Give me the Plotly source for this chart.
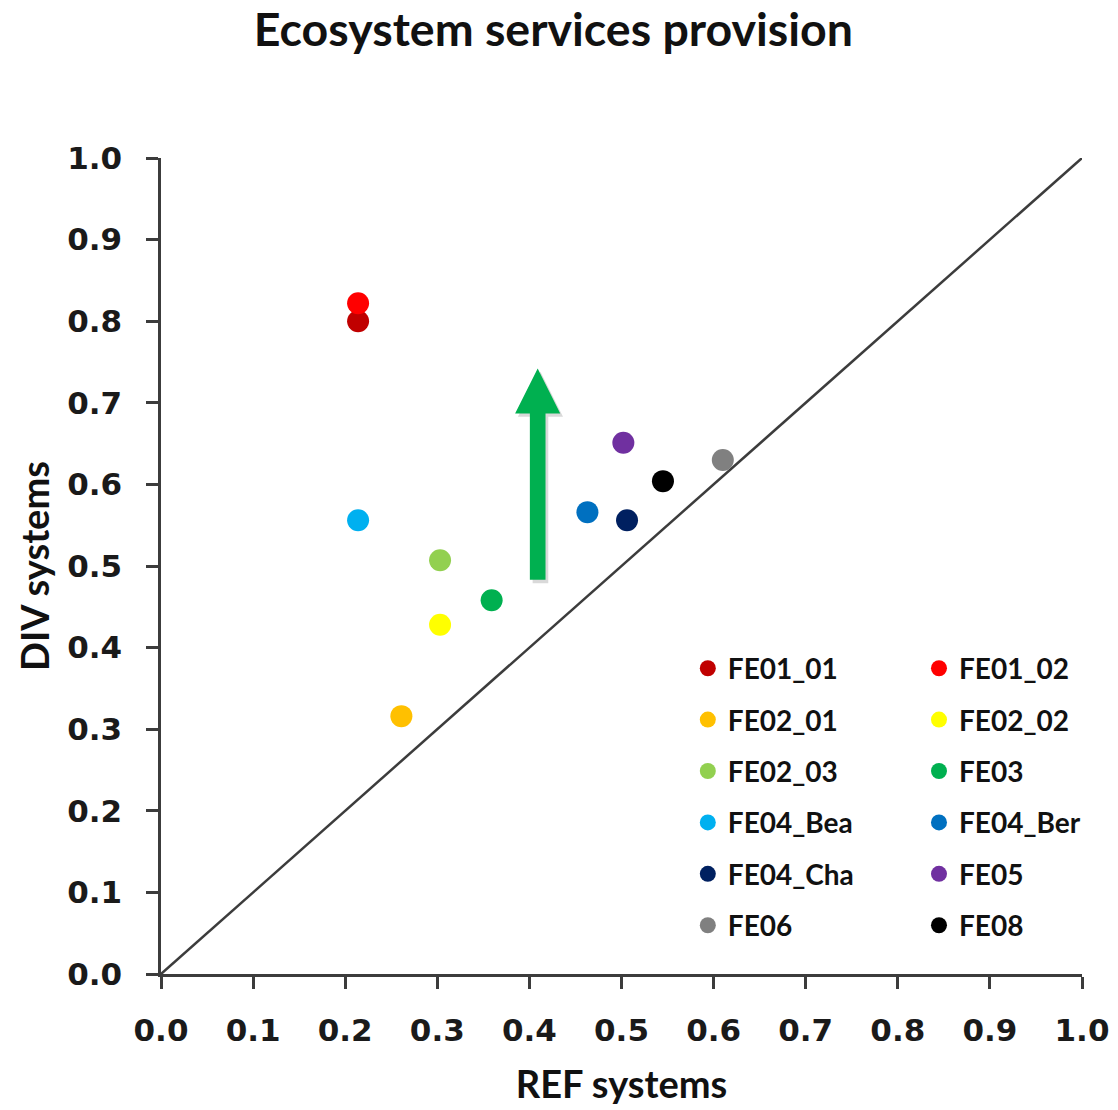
import plotly.graph_objects as go

# Farm experiments: REF-system score (x) vs DIV-system score (y)
sites = ["FE01_01", "FE01_02", "FE02_01", "FE02_02", "FE02_03", "FE03",
         "FE04_Bea", "FE04_Ber", "FE04_Cha", "FE05", "FE06", "FE08"]
ref_scores = [0.214, 0.214, 0.261, 0.303, 0.303, 0.359,
              0.214, 0.463, 0.506, 0.502, 0.610, 0.545]
div_scores = [0.800, 0.822, 0.316, 0.428, 0.507, 0.458,
              0.556, 0.566, 0.556, 0.651, 0.630, 0.604]
site_colors = ["#C00000", "#FF0000", "#FFC000", "#FFFF00", "#92D050", "#00B050",
               "#00B0F0", "#0070C0", "#002060", "#7030A0", "#808080", "#000000"]

tick_values = [0.0, 0.1, 0.2, 0.3, 0.4, 0.5, 0.6, 0.7, 0.8, 0.9, 1.0]
tick_labels = [f"{v:.1f}" for v in tick_values]

# 1:1 reference line
identity_line = [0.0, 1.0]

# upward arrow (data units)
arrow_x = 0.409
arrow_y_start = 0.483
arrow_y_tip = 0.742
arrow_shaft_half = 0.0085
arrow_head_half = 0.0245
arrow_head_len = 0.055

ARROW_GREEN = "#00B050"
AXIS_COLOR = "#3C3C3C"
LABEL_FONT = "Lato"
TICK_FONT = "DejaVu Sans"

fig = go.Figure()

fig.add_trace(go.Scatter(
    x=identity_line, y=identity_line, mode="lines",
    line=dict(color=AXIS_COLOR, width=2.5),
    showlegend=False, hoverinfo="skip",
))

# arrow as a filled polygon
head_base = arrow_y_tip - arrow_head_len
arrow_xs = [arrow_x - arrow_shaft_half, arrow_x - arrow_shaft_half, arrow_x - arrow_head_half,
            arrow_x, arrow_x + arrow_head_half, arrow_x + arrow_shaft_half,
            arrow_x + arrow_shaft_half, arrow_x - arrow_shaft_half]
arrow_ys = [arrow_y_start, head_base, head_base, arrow_y_tip, head_base, head_base,
            arrow_y_start, arrow_y_start]
# soft drop shadow
fig.add_trace(go.Scatter(
    x=[v + 0.003 for v in arrow_xs], y=[v - 0.004 for v in arrow_ys],
    mode="lines", fill="toself", fillcolor="rgba(0,0,0,0.15)",
    line=dict(width=0, color="rgba(0,0,0,0)"),
    showlegend=False, hoverinfo="skip",
))
fig.add_trace(go.Scatter(
    x=arrow_xs, y=arrow_ys, mode="lines", fill="toself",
    fillcolor=ARROW_GREEN, line=dict(width=0, color=ARROW_GREEN),
    showlegend=False, hoverinfo="skip",
))

# split the legend into two columns, filled row by row
for i, (name, xv, yv, col) in enumerate(zip(sites, ref_scores, div_scores, site_colors)):
    fig.add_trace(go.Scatter(
        x=[xv], y=[yv], mode="markers", name=name,
        marker=dict(color=col, size=22, line=dict(width=0)),
        legend="legend" if i % 2 == 0 else "legend2",
        legendgroup=name,
    ))

axis_common = dict(
    range=[0, 1], tickvals=tick_values, ticktext=tick_labels,
    showgrid=False, zeroline=False, showline=True,
    linecolor=AXIS_COLOR, linewidth=2.5,
    ticks="outside", ticklen=12, tickwidth=2.5, tickcolor=AXIS_COLOR,
    tickfont=dict(family=TICK_FONT, size=31, color="#1a1a1a", weight="bold"),
    fixedrange=True, automargin=False,
)

legend_common = dict(
    yanchor="top", xanchor="left", bgcolor="rgba(0,0,0,0)",
    font=dict(family=LABEL_FONT, size=28, color="#111111", weight="bold"),
    tracegroupgap=12, itemwidth=30,
)

fig.update_layout(
    width=1118, height=1110,
    margin=dict(l=161, r=36, t=158, b=136, autoexpand=False),
    paper_bgcolor="white", plot_bgcolor="white",
    title=dict(text="Ecosystem services provision", x=0.495, xanchor="center",
               y=0.973, yanchor="middle", automargin=False,
               font=dict(family=LABEL_FONT, size=46.5, color="#111111", weight="bold")),
    xaxis=dict(**axis_common, ticklabelstandoff=15,
               title=dict(text="REF systems", standoff=25,
                          font=dict(family=LABEL_FONT, size=38, color="#111111", weight="bold"))),
    yaxis=dict(**axis_common, ticklabelstandoff=18,
               title=dict(text="DIV systems", standoff=6,
                          font=dict(family=LABEL_FONT, size=38, color="#111111", weight="bold"))),
    legend=dict(**legend_common, x=0.572, y=0.405),
    legend2=dict(**legend_common, x=0.823, y=0.405),
)

fig.write_html("out.html")
